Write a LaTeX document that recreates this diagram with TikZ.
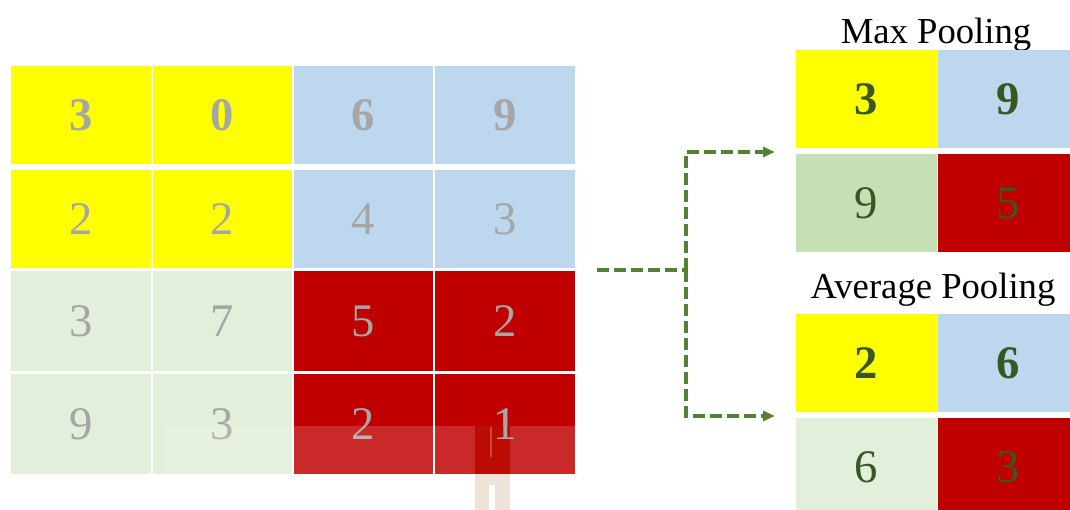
\documentclass[tikz,border=0pt]{standalone}
\usepackage{fontspec}
\setmainfont{Liberation Serif}
\usetikzlibrary{arrows.meta}
\definecolor{cyel}{HTML}{FFFF00}
\definecolor{cblue}{HTML}{BDD7EE}
\definecolor{cgreen}{HTML}{E2EFDA}
\definecolor{cgreenmid}{HTML}{C5E0B4}
\definecolor{cred}{HTML}{C00000}
\definecolor{cgray}{HTML}{A6A6A6}
\definecolor{cdark}{HTML}{385723}
\definecolor{carrow}{HTML}{548235}
\definecolor{ctan}{HTML}{EDE3D6}
\definecolor{cbar}{HTML}{BA0C00}
\tikzset{
  cell/.style 2 args={draw=none, inner sep=0pt, minimum width=#1*0.75pt,
    minimum height=#2*0.75pt, font=\fontsize{35}{35}\selectfont},
  ingray/.style={text=cgray},
  outgreen/.style={text=cdark},
  title/.style={font=\fontsize{27.5}{30}\selectfont, anchor=base, inner sep=0pt},
  flow/.style={draw=carrow, line width=2.5pt, dash pattern=on 9pt off 3.75pt},
  flowtip/.style={flow, -{Triangle[length=9pt,width=7.5pt]}}
}
\begin{document}
\begin{tikzpicture}[x=0.75pt, y=-0.75pt]
\useasboundingbox (0,0) rectangle (1070,510);
\begin{scope}
\clip (0,0) rectangle (1070,510);

% input feature map 4x4
\node[cell={140}{98}, fill=cyel, ingray, font=\fontsize{35}{35}\selectfont\bfseries] (a11) at (81,115) {3};
\node[cell={139}{98}, fill=cyel, ingray, font=\fontsize{35}{35}\selectfont\bfseries] (a12) at (222.5,115) {0};
\node[cell={139}{98}, fill=cblue, ingray, font=\fontsize{35}{35}\selectfont\bfseries] (a13) at (363.5,115) {6};
\node[cell={140}{98}, fill=cblue, ingray, font=\fontsize{35}{35}\selectfont\bfseries] (a14) at (505,115) {9};

\node[cell={140}{98}, fill=cyel, ingray] (a21) at (81,219) {2};
\node[cell={139}{98}, fill=cyel, ingray] (a22) at (222.5,219) {2};
\node[cell={139}{98}, fill=cblue, ingray] (a23) at (363.5,219) {4};
\node[cell={140}{98}, fill=cblue, ingray] (a24) at (505,219) {3};

\node[cell={140}{100}, fill=cgreen, ingray] (a31) at (81,321) {3};
\node[cell={139}{100}, fill=cgreen, ingray] (a32) at (222.5,321) {7};
\node[cell={139}{100}, fill=cred, ingray] (a33) at (363.5,321) {5};
\node[cell={140}{100}, fill=cred, ingray] (a34) at (505,321) {2};

\node[cell={140}{100}, fill=cgreen, ingray] (a41) at (81,424) {9};
\node[cell={139}{100}, fill=cgreen, ingray] (a42) at (222.5,424) {3};
\node[cell={139}{100}, fill=cred, ingray] (a43) at (363.5,424) {2};
\node[cell={140}{100}, fill=cred, ingray] (a44) at (505,424) {1};

% faint overlay across the lower edge of the map
\fill[white, opacity=0.16] (165,426) rectangle (575,474);
\fill[cbar] (475,426) rectangle (510,474);
\fill[white, opacity=0.25] (490,427) rectangle (491.5,457);
\fill[ctan] (475,474) rectangle (510,510);
\fill[white] (489,485) rectangle (495,510);
\node[cell={140}{100}, ingray] (a44t) at (505,424) {1};

% max pooling result
\node[title] (maxlbl) at (936,44) {Max Pooling};
\node[cell={141}{98}, fill=cyel, outgreen, font=\fontsize{35}{35}\selectfont\bfseries] (m11) at (866.5,99) {3};
\node[cell={141}{98}, fill=cblue, outgreen, font=\fontsize{35}{35}\selectfont\bfseries] (m12) at (1008.5,99) {9};
\node[cell={141}{98}, fill=cgreenmid, outgreen] (m21) at (866.5,203) {9};
\node[cell={141}{98}, fill=cred, outgreen] (m22) at (1008.5,203) {5};

% average pooling result
\node[title] (avglbl) at (933,298) {Average Pooling};
\node[cell={141}{98}, fill=cyel, outgreen, font=\fontsize{35}{35}\selectfont\bfseries] (v11) at (866.5,363) {2};
\node[cell={141}{98}, fill=cblue, outgreen, font=\fontsize{35}{35}\selectfont\bfseries] (v12) at (1008.5,363) {6};
\node[cell={141}{98}, fill=cgreen, outgreen] (v21) at (866.5,467) {6};
\node[cell={141}{98}, fill=cred, outgreen] (v22) at (1008.5,467) {3};

% branching dashed connector
\coordinate (src) at (597,270);
\coordinate (fork) at (686,270);
\coordinate (tomax) at (775,152);
\coordinate (toavg) at (775,416);
\draw[flow] (src) -- (fork);
\draw[flowtip] (fork) |- (tomax);
\draw[flowtip] (fork) |- (toavg);
\end{scope}
\end{tikzpicture}
\end{document}
